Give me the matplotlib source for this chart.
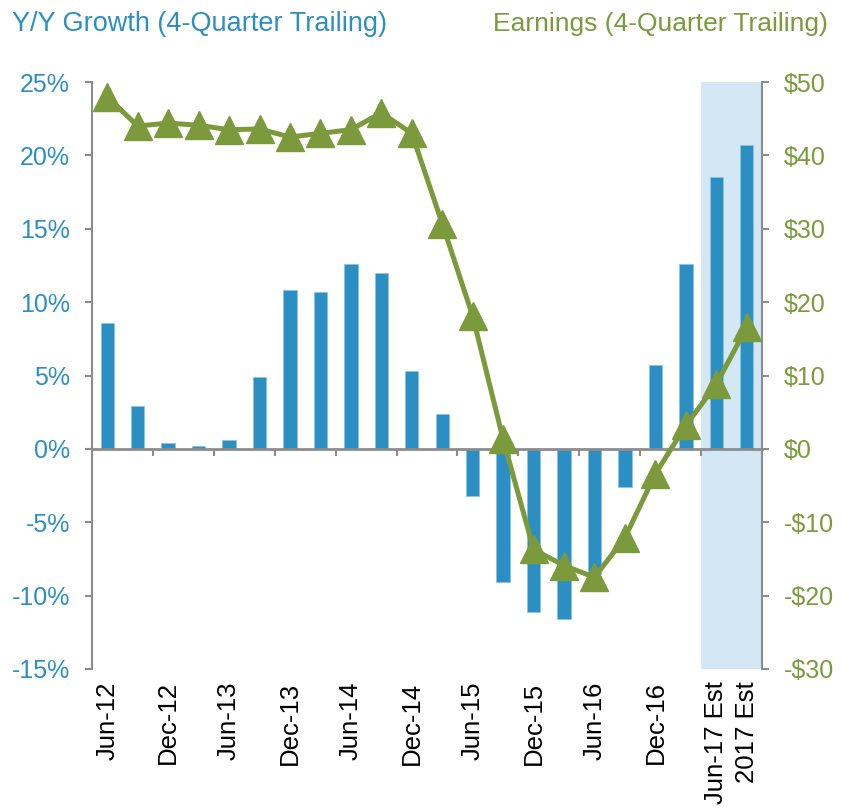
import numpy as np
import matplotlib
matplotlib.use("Agg")
import matplotlib.pyplot as plt

plt.rcParams['font.family'] = ['Liberation Sans', 'DejaVu Sans']

# quarters, 4-quarter trailing
quarters = ['Jun-12', 'Sep-12', 'Dec-12', 'Mar-13', 'Jun-13', 'Sep-13', 'Dec-13',
            'Mar-14', 'Jun-14', 'Sep-14', 'Dec-14', 'Mar-15', 'Jun-15', 'Sep-15',
            'Dec-15', 'Mar-16', 'Jun-16', 'Sep-16', 'Dec-16', 'Mar-17',
            'Jun-17 Est', '2017 Est']
shown = ['Jun-12', 'Dec-12', 'Jun-13', 'Dec-13', 'Jun-14', 'Dec-14', 'Jun-15',
         'Dec-15', 'Jun-16', 'Dec-16', 'Jun-17 Est', '2017 Est']
growth = [8.6, 2.9, 0.4, 0.2, 0.6, 4.9, 10.8, 10.7, 12.6, 12.0, 5.3, 2.4,
          -3.2, -9.1, -11.1, -11.6, -8.5, -2.6, 5.7, 12.6, 18.5, 20.7]
earnings = [48.0, 44.0, 44.4, 44.1, 43.5, 43.6, 42.5, 43.0, 43.5, 45.8, 43.0,
            30.7, 18.1, 1.3, -13.7, -15.9, -17.5, -12.1, -3.4, 3.2, 8.8, 16.6]
est_start = 'Jun-17 Est'

blue = '#2b8fc4'
green = '#7a9a3b'
gray = '#8c8c8c'

x = np.arange(len(quarters))

fig = plt.figure(figsize=(8.54, 8.1), dpi=100)
ax = fig.add_axes([92/854, 1-669/810, 670/854, 587/810])
ax2 = ax.twinx()

# shaded estimate region
i0 = quarters.index(est_start)
ax.axvspan(i0 - 0.5, len(quarters) - 0.5, color='#d3e7f4', zorder=0, lw=0)
ax.bar(x, growth, width=0.44, color=blue, edgecolor='#8cc3e2', lw=0.6, zorder=2)

ax.set_xlim(-0.5, len(quarters) - 0.5)
ax.set_ylim(-15, 25)
yt = np.arange(-15, 26, 5)
ax.set_yticks(yt, ['%d%%' % v for v in yt])
ax.spines['top'].set_visible(False)
ax.spines['right'].set_visible(False)
ax.spines['left'].set_color(gray)
ax.spines['left'].set_linewidth(1.5)
ax.spines['bottom'].set_position(('data', 0))
ax.spines['bottom'].set_color(gray)
ax.spines['bottom'].set_linewidth(2)
ax.set_xticks(np.arange(-0.5, len(quarters), 2))
ax.tick_params(axis='x', labelbottom=False, length=5, width=1.5, color=gray)
ax.tick_params(axis='y', labelsize=18, labelcolor=blue, length=5, width=1.5,
               color=gray, pad=11)

sec = ax.secondary_xaxis(0.0)
sec.set_xticks([quarters.index(q) for q in shown], shown, rotation=90)
sec.spines['bottom'].set_visible(False)
sec.tick_params(length=0, labelsize=18.5, pad=9)

ax2.plot(x, earnings, color=green, lw=3.6, marker='^', ms=20, zorder=3)
ax2.set_ylim(-30, 50)
rt = np.arange(-30, 51, 10)
ax2.set_yticks(rt, [('-$%d' % -v) if v < 0 else ('$%d' % v) for v in rt])
for s in ['top', 'left', 'bottom']:
    ax2.spines[s].set_visible(False)
ax2.spines['right'].set_color(gray)
ax2.spines['right'].set_linewidth(1.5)
ax2.tick_params(axis='y', labelsize=18, labelcolor=green, length=5, width=1.5,
                color=gray, pad=11)

fig.text(12/854, 1-31/810, 'Y/Y Growth (4-Quarter Trailing)', color=blue,
         fontsize=19.5, va='baseline', ha='left')
fig.text(828/854, 1-31/810, 'Earnings (4-Quarter Trailing)', color=green,
         fontsize=19, va='baseline', ha='right')

fig.savefig('out.png', dpi=100)
